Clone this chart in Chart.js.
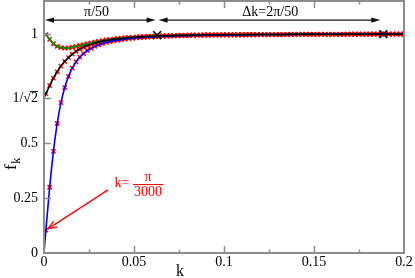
<!DOCTYPE html>
<html>
<head>
<meta charset="utf-8">
<script src="https://cdn.jsdelivr.net/npm/chart.js@4.4.1/dist/chart.umd.min.js"></script>
<style>
  html, body { margin: 0; padding: 0; background: #fff; }
  canvas { display: block; }
</style>
</head>
<body>
<canvas id="c" width="415" height="278"></canvas>
<script>
'use strict';

/* ── Data ─────────────────────────────────────────────── */
// k values of the red markers
const K = [
  0.00105, 0.00314, 0.00524, 0.00733, 0.00942, 0.01152, 0.01361, 0.01571, 0.0178, 0.0199,
  0.02199, 0.02409, 0.02618, 0.02827, 0.03037, 0.03246, 0.03456, 0.03665, 0.03875, 0.04084,
  0.04294, 0.04503, 0.04712, 0.04922, 0.05131, 0.05341, 0.0555, 0.0576, 0.05969, 0.06178,
  0.06388, 0.06597, 0.06807, 0.07016, 0.07226, 0.07435, 0.07645, 0.07854, 0.08063, 0.08273,
  0.08482, 0.08692, 0.08901, 0.09111, 0.0932, 0.0953, 0.09739, 0.09948, 0.10158, 0.10367,
  0.10577, 0.10786, 0.10996, 0.11205, 0.11414, 0.11624, 0.11833, 0.12043, 0.12252, 0.12462,
  0.12671, 0.12881, 0.1309, 0.13299, 0.13509, 0.13718, 0.13928, 0.14137, 0.14347, 0.14556,
  0.14765, 0.14975, 0.15184, 0.15394, 0.15603, 0.15813, 0.16022, 0.16232, 0.16441, 0.1665,
  0.1686, 0.17069, 0.17279, 0.17488, 0.17698, 0.17907, 0.18117, 0.18326, 0.18535, 0.18745,
  0.18954, 0.19164, 0.19373, 0.19583, 0.19792, 0.20001
];

const F_BLUE = [
  0.104, 0.300, 0.464, 0.591, 0.686, 0.755, 0.806, 0.844, 0.872, 0.894,
  0.910, 0.924, 0.934, 0.943, 0.950, 0.956, 0.961, 0.965, 0.968, 0.971,
  0.974, 0.976, 0.978, 0.980, 0.982, 0.983, 0.984, 0.985, 0.986, 0.987,
  0.988, 0.989, 0.990, 0.990, 0.991, 0.991, 0.992, 0.992, 0.992, 0.993,
  0.993, 0.993, 0.994, 0.994, 0.994, 0.995, 0.995, 0.995, 0.995, 0.995,
  0.996, 0.996, 0.996, 0.996, 0.996, 0.996, 0.996, 0.997, 0.997, 0.997,
  0.997, 0.997, 0.997, 0.997, 0.997, 0.997, 0.997, 0.998, 0.998, 0.998,
  0.998, 0.998, 0.998, 0.998, 0.998, 0.998, 0.998, 0.998, 0.998, 0.998,
  0.998, 0.998, 0.998, 0.998, 0.998, 0.998, 0.998, 0.999, 0.999, 0.999,
  0.999, 0.999, 0.999, 0.999, 0.999, 0.999
];

const F_BLACK = [
  0.727, 0.764, 0.798, 0.827, 0.853, 0.874, 0.892, 0.908, 0.920, 0.931,
  0.939, 0.947, 0.953, 0.958, 0.963, 0.967, 0.970, 0.973, 0.975, 0.978,
  0.979, 0.981, 0.983, 0.984, 0.985, 0.986, 0.987, 0.988, 0.989, 0.989,
  0.990, 0.991, 0.991, 0.992, 0.992, 0.993, 0.993, 0.993, 0.994, 0.994,
  0.994, 0.994, 0.995, 0.995, 0.995, 0.995, 0.995, 0.996, 0.996, 0.996,
  0.996, 0.996, 0.996, 0.996, 0.997, 0.997, 0.997, 0.997, 0.997, 0.997,
  0.997, 0.997, 0.997, 0.997, 0.998, 0.998, 0.998, 0.998, 0.998, 0.998,
  0.998, 0.998, 0.998, 0.998, 0.998, 0.998, 0.998, 0.998, 0.998, 0.998,
  0.999, 0.999, 0.999, 0.999, 0.999, 0.999, 0.999, 0.999, 0.999, 0.999,
  0.999, 0.999, 0.999, 0.999, 0.999, 0.999
];

const F_GREEN = [
  0.997, 0.975, 0.955, 0.943, 0.937, 0.935, 0.936, 0.939, 0.943, 0.947,
  0.951, 0.955, 0.959, 0.963, 0.966, 0.969, 0.972, 0.974, 0.976, 0.978,
  0.980, 0.982, 0.983, 0.984, 0.985, 0.986, 0.987, 0.988, 0.989, 0.990,
  0.990, 0.991, 0.991, 0.992, 0.992, 0.993, 0.993, 0.993, 0.994, 0.994,
  0.994, 0.994, 0.995, 0.995, 0.995, 0.995, 0.995, 0.996, 0.996, 0.996,
  0.996, 0.996, 0.996, 0.996, 0.997, 0.997, 0.997, 0.997, 0.997, 0.997,
  0.997, 0.997, 0.997, 0.997, 0.998, 0.998, 0.998, 0.998, 0.998, 0.998,
  0.998, 0.998, 0.998, 0.998, 0.998, 0.998, 0.998, 0.998, 0.998, 0.998,
  0.999, 0.999, 0.999, 0.999, 0.999, 0.999, 0.999, 0.999, 0.999, 0.999,
  0.999, 0.999, 0.999, 0.999, 0.999, 0.999
];

// where each curve meets the k = 0 axis: blue, black, green
const F_AT_ZERO = [0, 0.7071, 1];

// big black crosses (k = π/50 and 3π/50)
const CROSS_K = [0.06283, 0.18850];
const CROSS_F = [0.994, 0.999];

const X_TICKS = [0, 0.05, 0.1, 0.15, 0.2];
const X_TICK_LABELS = ['0', '0.05', '0.1', '0.15', '0.2'];
const X_MINOR = [0.025, 0.075, 0.125, 0.175];
const Y_TICKS = [0, 0.25, 0.5, 0.7071, 1];
const Y_TICK_LABELS = ['0', '0.25', '0.5', '1/\u221A2', '1'];

/* ── Styling ──────────────────────────────────────────── */
const SERIF = '"Liberation Serif", "DejaVu Serif", serif';
const FRAME = '#8c8c8c';
const RED = '#ff0000';

function pts(ys) { return K.map((k, i) => ({ x: k, y: ys[i] })); }
function curve(f0, ys) { return [{ x: 0, y: f0 }].concat(pts(ys)); }

function lineSet(data, color, width, order) {
  return {
    data, showLine: true, borderColor: color, borderWidth: width,
    pointRadius: 0, cubicInterpolationMode: 'monotone', order
  };
}
function markSet(data, order) {
  return {
    data, showLine: false, pointStyle: 'crossRot', pointRadius: 3,
    pointBorderColor: RED, pointBorderWidth: 1.5, pointBackgroundColor: RED, order
  };
}

/* ── Decorations: frame, ticks, arrows, labels ────────── */
function arrowHead(ctx, tx, ty, dx, dy, len, half) {
  const n = Math.hypot(dx, dy); dx /= n; dy /= n;
  ctx.beginPath();
  ctx.moveTo(tx, ty);
  ctx.lineTo(tx - dx * len - dy * half, ty - dy * len + dx * half);
  ctx.lineTo(tx - dx * len + dy * half, ty - dy * len - dx * half);
  ctx.closePath();
  ctx.fill();
}

const deco = {
  id: 'deco',
  afterDatasetsDraw(chart) {
    const { ctx, chartArea: a, scales: { x, y } } = chart;
    ctx.save();

    // frame + inward ticks
    ctx.strokeStyle = FRAME;
    ctx.lineWidth = 2;
    ctx.strokeRect(a.left, a.top, a.right - a.left, a.bottom - a.top);
    ctx.lineWidth = 1.5;
    ctx.beginPath();
    X_TICKS.slice(1, -1).forEach(v => {
      const px = Math.round(x.getPixelForValue(v)) + 0.5;
      ctx.moveTo(px, a.bottom); ctx.lineTo(px, a.bottom - 7);
      ctx.moveTo(px, a.top); ctx.lineTo(px, a.top + 7);
    });
    X_MINOR.forEach(v => {
      const px = Math.round(x.getPixelForValue(v)) + 0.5;
      ctx.moveTo(px, a.bottom); ctx.lineTo(px, a.bottom - 3.5);
      ctx.moveTo(px, a.top); ctx.lineTo(px, a.top + 3.5);
    });
    Y_TICKS.slice(1).forEach(v => {
      const py = Math.round(y.getPixelForValue(v)) + 0.5;
      ctx.moveTo(a.left, py); ctx.lineTo(a.left + 7, py);
    });
    ctx.stroke();

    // overline of the square root in the 1/√2 tick label
    ctx.font = '14px ' + SERIF;
    const right = a.left - 6;
    const w2 = ctx.measureText('2').width;
    const py = y.getPixelForValue(Y_TICKS[3]);
    ctx.strokeStyle = '#000';
    ctx.lineWidth = 0.9;
    ctx.beginPath();
    ctx.moveTo(right - w2 - 1, py - 6.5);
    ctx.lineTo(right, py - 6.5);
    ctx.stroke();

    // dimension arrows along the top
    const ya = y.getPixelForValue(1.063);
    const x0 = x.getPixelForValue(0), x1 = x.getPixelForValue(CROSS_K[0]), x2 = x.getPixelForValue(CROSS_K[1]);
    ctx.strokeStyle = '#111';
    ctx.fillStyle = '#111';
    ctx.lineWidth = 1.3;
    [[x0 + 1, x1 - 1.5], [x1 + 1.5, x2 - 3]].forEach(([l, r]) => {
      ctx.beginPath(); ctx.moveTo(l + 4, ya); ctx.lineTo(r - 4, ya); ctx.stroke();
      arrowHead(ctx, l, ya, -1, 0, 9, 2.6);
      arrowHead(ctx, r, ya, 1, 0, 9, 2.6);
    });
    ctx.fillStyle = '#000';
    ctx.font = '14px ' + SERIF;
    ctx.textAlign = 'center';
    ctx.textBaseline = 'middle';
    const yl = y.getPixelForValue(1.10);
    ctx.fillText('\u03C0/50', (x0 + x1) / 2 - 4, yl);
    ctx.fillText('\u0394k=2\u03C0/50', (x1 + x2) / 2, yl);

    // red pointer to the first marker
    ctx.strokeStyle = RED;
    ctx.fillStyle = RED;
    ctx.lineWidth = 1.3;
    const sx = x.getPixelForValue(0.0356), sy = y.getPixelForValue(0.288);
    const tx = x.getPixelForValue(0.0022), ty = y.getPixelForValue(0.11);
    ctx.beginPath(); ctx.moveTo(sx, sy); ctx.lineTo(tx, ty); ctx.stroke();
    const dx = tx - sx, dy = ty - sy, n = Math.hypot(dx, dy);
    const ux = dx / n, uy = dy / n;
    ctx.beginPath();
    ctx.moveTo(tx - ux * 9 - uy * 3.5, ty - uy * 9 + ux * 3.5);
    ctx.lineTo(tx, ty);
    ctx.lineTo(tx - ux * 9 + uy * 3.5, ty - uy * 9 - ux * 3.5);
    ctx.stroke();

    ctx.font = '14px ' + SERIF;
    ctx.textAlign = 'right';
    ctx.fillText('k=', x.getPixelForValue(0.0474), y.getPixelForValue(0.32));
    ctx.textAlign = 'center';
    const fx = x.getPixelForValue(0.0578);
    ctx.fillText('\u03C0', fx, y.getPixelForValue(0.347));
    ctx.fillText('3000', fx, y.getPixelForValue(0.276));
    const fb = Math.round(y.getPixelForValue(0.313)) + 0.5;
    ctx.lineWidth = 1;
    ctx.beginPath(); ctx.moveTo(fx - 15, fb); ctx.lineTo(fx + 15, fb); ctx.stroke();

    // axis titles
    ctx.fillStyle = '#000';
    ctx.font = '16px ' + SERIF;
    ctx.textAlign = 'center';
    ctx.fillText('k', x.getPixelForValue(0.0756), a.bottom + 19);

    ctx.translate(12, 170);
    ctx.rotate(-Math.PI / 2);
    ctx.textAlign = 'left';
    ctx.font = '17px ' + SERIF;
    ctx.fillText('f', 0, 0);
    const fw = ctx.measureText('f').width;
    ctx.font = '12px ' + SERIF;
    ctx.fillText('k', fw + 0.5, 5);
    ctx.restore();
  }
};

/* ── Chart ────────────────────────────────────────────── */
const tickFont = { family: SERIF, size: 14 };

new Chart(document.getElementById('c'), {
  type: 'scatter',
  data: {
    datasets: [
      { data: CROSS_K.map((k, i) => ({ x: k, y: CROSS_F[i] })), showLine: false,
        pointStyle: 'crossRot', pointRadius: 5.5, pointBorderColor: '#000',
        pointBorderWidth: 1.6, order: 0 },
      lineSet(curve(F_AT_ZERO[1], F_BLACK), '#000000', 1.6, 1),
      lineSet(curve(F_AT_ZERO[0], F_BLUE), '#0000ff', 1.6, 2),
      lineSet(curve(F_AT_ZERO[2], F_GREEN), '#009000', 1.8, 3),
      markSet(pts(F_BLACK), 4),
      markSet(pts(F_BLUE), 5),
      markSet(pts(F_GREEN), 6)
    ]
  },
  options: {
    responsive: false,
    animation: false,
    devicePixelRatio: 1,
    layout: { padding: { top: 1, right: 11, left: 0, bottom: 0 }, autoPadding: false },
    plugins: { legend: { display: false }, tooltip: { enabled: false } },
    scales: {
      x: {
        type: 'linear', min: 0, max: 0.2,
        grid: { display: false, drawTicks: false },
        border: { display: false },
        afterBuildTicks: s => { s.ticks = X_TICKS.map(v => ({ value: v })); },
        afterFit: s => { s.height = 25; s.paddingLeft = 0; s.paddingRight = 0; },
        ticks: {
          font: tickFont, color: '#000', padding: 1, maxRotation: 0, autoSkip: false,
          callback: (v, i) => X_TICK_LABELS[i]
        }
      },
      y: {
        type: 'linear', min: 0, max: 1.15,
        grid: { display: false, drawTicks: false },
        border: { display: false },
        afterBuildTicks: s => { s.ticks = Y_TICKS.map(v => ({ value: v })); },
        afterFit: s => { s.width = 44; s.paddingTop = 0; s.paddingBottom = 0; },
        ticks: {
          font: tickFont, color: '#000', padding: 6, autoSkip: false,
          callback: (v, i) => Y_TICK_LABELS[i]
        }
      }
    }
  },
  plugins: [deco]
});
</script>
</body>
</html>
